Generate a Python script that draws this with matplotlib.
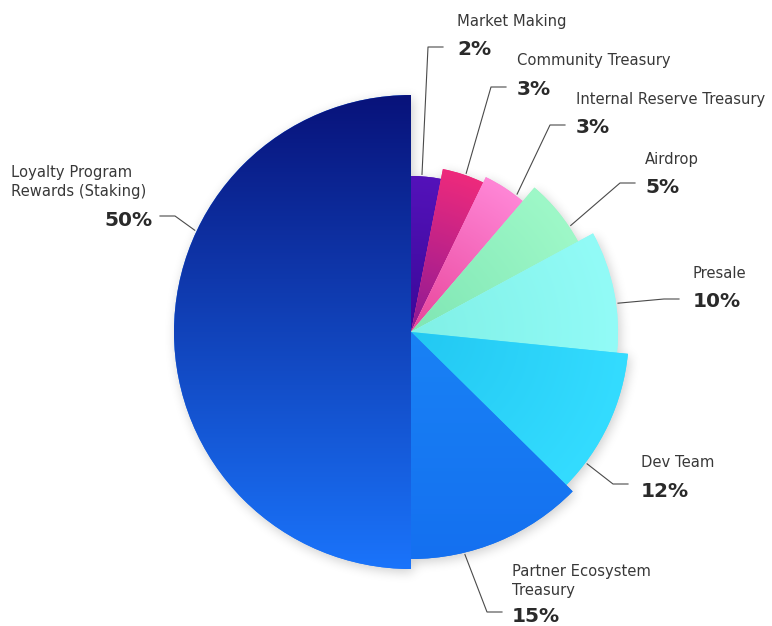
import numpy as np
import matplotlib
matplotlib.use("Agg")
import matplotlib.pyplot as plt
from matplotlib.patches import Wedge
from matplotlib.colors import to_rgb

# token allocation, clockwise from 12 o'clock
names = ["Market Making", "Community Treasury", "Internal Reserve Treasury",
         "Airdrop", "Presale", "Dev Team", "Partner Ecosystem\nTreasury",
         "Loyalty Program\nRewards (Staking)"]
shares = [2, 3, 3, 5, 10, 12, 15, 50]

# look of each slice: radius in px, gradient colours (start, end) and gradient kind
radii = [156, 166, 172, 190, 207, 218, 227, 237]
grad = [("#3a0898", "#5412ba", "radial"),
        ("#8c1a96", "#ee2a7c", "radial"),
        ("#e8449a", "#ff86d6", "radial"),
        ("#7fe6b4", "#9ef8c8", "radial"),
        ("#80f0e6", "#92fbf7", "radial"),
        ("#22c8f2", "#34dcff", "radial"),
        ("#1e94fa", "#1470f0", "vertical"),
        ("#08127a", "#1a74fb", "vertical")]

# where the label sits: text x, name baseline, pct baseline, elbow (x, y), anchor fraction along slice
labels = [(457, 26, 55, (428, 47), 0.36),
          (517, 65, 95, (491, 87), 0.55),
          (576, 104, 133, (550, 125), 0.8),
          (645, 164, 193, (620, 183), 0.75),
          (693, 278, 307, (664, 299), 0.6),
          (641, 467, 497, (613, 484), 0.8),
          (512, 576, 622, (487, 612), 0.7),
          (153, 177, 226, (175, 216), 0.64)]

W, H = 772, 626
cx, cy = 411, 332
NAME_FS = 10.6
PCT_FS = 14.5

# the big slice keeps its true half of the circle, the small ones share the
# other half on a softened scale so the thin ones stay readable
big = shares[-1]
spans = [big / 100 * 360]
small = np.array(shares[:-1], dtype=float) ** 0.7
small = small / small.sum() * (360 - spans[0])
spans = list(small) + spans
ends = np.cumsum(spans)
starts = ends - np.array(spans)

fig = plt.figure(figsize=(W / 100, H / 100), dpi=100)
ax = fig.add_axes([0, 0, 1, 1])
ax.set_xlim(0, W)
ax.set_ylim(H, 0)
ax.axis("off")

px = np.arange(W) + 0.5
py = np.arange(H) + 0.5
xx, yy = np.meshgrid(px, py)
dx = xx - cx
dy = cy - yy
rr = np.hypot(dx, dy)
aa = np.degrees(np.arctan2(dx, dy)) % 360


def box_blur(a, k, n=3):
    # repeated moving average along both axes
    for _ in range(n):
        for axis in (0, 1):
            pad = [(0, 0), (0, 0)]
            pad[axis] = (k, k)
            b = np.pad(a, pad, mode="edge")
            c = np.cumsum(b, axis=axis)
            c = np.insert(c, 0, 0, axis=axis)
            if axis == 0:
                a = (c[2 * k + 1:, :] - c[:-2 * k - 1, :]) / (2 * k + 1)
            else:
                a = (c[:, 2 * k + 1:] - c[:, :-2 * k - 1]) / (2 * k + 1)
    return a


# soft drop shadow under the whole pie
mask = np.zeros((H, W))
for a0, a1, r in zip(starts, ends, radii):
    mask[(aa >= a0) & (aa < a1) & (rr <= r)] = 1.0
shadow = box_blur(np.roll(np.roll(mask, 3, axis=0), 2, axis=1), 5)
shadow_img = np.zeros((H, W, 4))
shadow_img[..., 3] = shadow * 0.2
ax.imshow(shadow_img, extent=(0, W, H, 0), zorder=1)

for i, (a0, a1, r) in enumerate(zip(starts, ends, radii)):
    c0, c1, kind = grad[i]
    wedge = Wedge((cx, cy), r, a0 - 90, a1 - 90, facecolor=c1, edgecolor="none", zorder=2 + i)
    ax.add_patch(wedge)
    if kind == "radial":
        t = np.clip(rr / r, 0, 1)
    else:
        t = np.clip((yy - (cy - r)) / (2 * r), 0, 1)
    t = t[..., None]
    img = (1 - t) * np.array(to_rgb(c0)) + t * np.array(to_rgb(c1))
    im = ax.imshow(img, extent=(0, W, H, 0), zorder=2 + i, interpolation="bilinear")
    im.set_clip_path(wedge)

# labels with leader lines
for i, (name, share) in enumerate(zip(names, shares)):
    tx, ny, pyb, (ex, ey), frac = labels[i]
    ang = starts[i] + frac * spans[i]
    r = radii[i] + 2
    sx = cx + r * np.sin(np.radians(ang))
    sy = cy - r * np.cos(np.radians(ang))
    left = i == len(names) - 1
    hx = ex - 15 if left else ex + 15
    ax.plot([sx, ex, hx], [sy, ey, ey], color="#4a4a4a", lw=0.8, zorder=20)

    name_x = 11 if left else tx
    for k, line in enumerate(name.split("\n")):
        ax.text(name_x, ny + 19 * k, line, ha="left", va="baseline",
                fontsize=NAME_FS, color="#383838", zorder=21)
    ax.text(tx, pyb, f"{share}%", ha="right" if left else "left", va="baseline",
            fontsize=PCT_FS, fontweight="bold", color="#2a2a2a", zorder=21)

fig.savefig("out.png", dpi=100)
